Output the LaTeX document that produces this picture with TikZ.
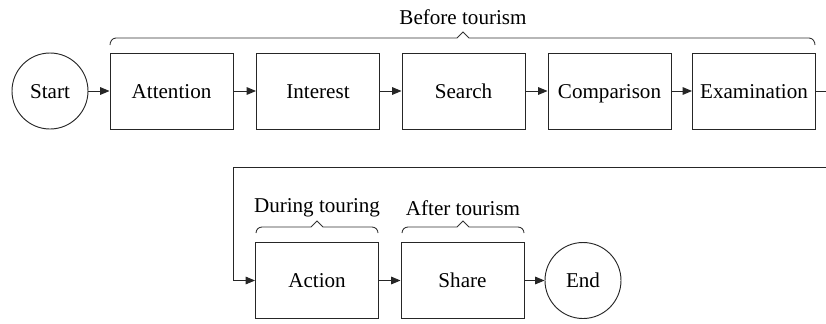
\documentclass[tikz,border=0pt]{standalone}
\usepackage{fontspec}
\setmainfont{Liberation Serif}
\usetikzlibrary{arrows.meta,calc}
\begin{document}
\begin{tikzpicture}[x=0.03cm,y=-0.03cm,
  font=\rmfamily\fontsize{18pt}{20pt}\selectfont,
  line width=0.8pt,
  stepbox/.style={draw=black!85,rectangle,minimum width=3.69cm,minimum height=2.28cm,inner sep=0pt,text height=12.3pt,text depth=0pt},
  term/.style={draw=black!85,circle,minimum size=2.28cm,inner sep=0pt,text height=12.3pt,text depth=0pt},
  conn/.style={draw=black!85,-{Triangle[length=8pt,width=6.5pt]}},
  bracel/.style={draw=black!80,line width=0.75pt},
  lbl/.style={inner sep=0pt}]
\useasboundingbox (0,0) rectangle (826,323);
\node[term] (start) at (50,91) {Start};
\node[stepbox] (att) at (171.5,91) {Attention};
\node[stepbox] (int) at (318,91) {Interest};
\node[stepbox] (sea) at (463.5,91) {Search};
\node[stepbox] (com) at (609.5,91) {Comparison};
\node[stepbox] (exa) at (754,91) {Examination};
\node[stepbox] (act) at (317,280.5) {Action};
\node[stepbox] (sha) at (462.5,280.5) {Share};
\node[term] (end) at (583,280.5) {End};
\coordinate (c1) at (845,91);
\coordinate (c2) at (845,167);
\coordinate (c3) at (233,167);
\coordinate (c4) at (233,280.5);
\draw[conn] (start) -- (att);
\draw[conn] (att) -- (int);
\draw[conn] (int) -- (sea);
\draw[conn] (sea) -- (com);
\draw[conn] (com) -- (exa);
\draw[conn] (exa.east) -- (c1) -- (c2) -- (c3) -- (c4) -- (act.west);
\draw[conn] (act) -- (sha);
\draw[conn] (sha) -- (end);
% braces
\draw[bracel] (110,45) to[out=90,in=180] (116,38) -- (457,38) -- (463,32) -- (469,38) -- (809,38) to[out=0,in=90] (815,45);
\node[lbl] (bt) at (463,17) {Before tourism};
\draw[bracel] (256,233) to[out=90,in=180] (262,227) -- (311,227) -- (317,221) -- (323,227) -- (372,227) to[out=0,in=90] (378,233);
\node[lbl] (dt) at (317,208) {During touring};
\draw[bracel] (402,233) to[out=90,in=180] (408,227) -- (457,227) -- (463,221) -- (469,227) -- (518,227) to[out=0,in=90] (524,233);
\node[lbl] (at) at (463,208) {After tourism};
\end{tikzpicture}
\end{document}
